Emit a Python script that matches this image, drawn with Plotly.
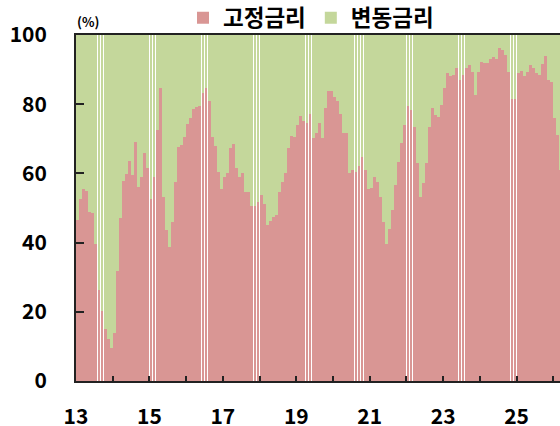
import plotly.graph_objects as go

# Monthly share of fixed-rate loans (%), Jan 2013 onward
fixed_rate = [
    46.5, 52.6, 55.6, 54.9, 48.9, 48.6, 39.7, 26.2, 20.2, 14.9, 12.0, 9.6,
    13.9, 31.7, 47.0, 57.8, 59.7, 63.5, 59.5, 69.1, 56.1, 59.0, 66.0, 61.7,
    52.6, 59.0, 72.5, 84.6, 53.2, 43.6, 38.8, 46.0, 57.6, 67.7, 68.2, 70.6,
    74.3, 76.0, 78.5, 79.1, 79.5, 83.3, 84.6, 80.9, 70.4, 67.9, 60.5, 55.4,
    59.0, 60.2, 67.2, 68.5, 61.7, 59.0, 60.2, 54.5, 54.5, 50.6, 50.6, 51.8,
    53.7, 51.3, 45.0, 46.2, 47.4, 47.9, 54.5, 57.6, 60.0, 67.2, 70.8, 70.6,
    74.0, 76.6, 75.2, 74.6, 77.1, 70.1, 71.6, 74.6, 70.1, 79.0, 83.8, 83.8,
    82.2, 81.0, 77.1, 71.6, 71.7, 60.2, 61.1, 60.5, 62.1, 64.8, 60.9, 55.6,
    55.9, 59.0, 57.6, 53.2, 46.0, 39.7, 43.9, 49.4, 56.6, 63.4, 68.7, 74.0,
    79.5, 78.3, 73.5, 62.9, 53.2, 57.1, 62.9, 73.5, 78.8, 76.9, 76.4, 79.7,
    84.6, 89.1, 88.1, 88.4, 90.4, 87.0, 88.4, 90.4, 91.3, 89.4, 82.6, 89.4,
    92.1, 92.0, 91.8, 93.0, 93.7, 93.2, 96.3, 95.7, 94.2, 89.4, 81.5, 81.5,
    88.9, 89.7, 88.2, 89.4, 91.3, 90.4, 88.9, 88.4, 91.5, 93.9, 87.0, 86.5,
    75.9, 71.1, 60.9,
]
# Variable-rate share is the remainder of 100%
variable_rate = [round(100 - v, 1) for v in fixed_rate]

months = list(range(len(fixed_rate)))          # month index from Jan 2013
years = list(range(2013, 2027))                # year boundaries
year_tick_pos = [12 * (y - 2013) - 0.5 for y in years]
year_tick_text = [str(y)[2:] if y % 2 == 1 else "" for y in years]
y_ticks = [0, 20, 40, 60, 80, 100]

RED = "#D99694"
GREEN = "#C4D79B"
FONT = "Noto Sans CJK KR"

fig = go.Figure()
fig.add_trace(go.Bar(x=months, y=fixed_rate, name="고정금리",
                     marker=dict(color=RED, line=dict(width=0))))
fig.add_trace(go.Bar(x=months, y=variable_rate, name="변동금리",
                     marker=dict(color=GREEN, line=dict(width=0))))

fig.update_layout(
    barmode="stack",
    bargap=0.06,
    width=560, height=426,
    margin=dict(l=76, r=0, t=35, b=45, autoexpand=False),
    paper_bgcolor="white", plot_bgcolor="white",
    font=dict(family=FONT, color="black"),
    showlegend=True,
    legend=dict(orientation="h", xref="container", yref="container",
                x=183 / 560, y=1 - 18 / 426, xanchor="left", yanchor="middle",
                bgcolor="rgba(0,0,0,0)",
                font=dict(size=22.5, family=FONT, weight="bold"),
                traceorder="normal", itemwidth=30),
    annotations=[dict(text="(%)", xref="paper", yref="paper",
                      x=0, y=1 + 13 / 346, xanchor="left", yanchor="middle",
                      xshift=-1, showarrow=False,
                      font=dict(size=13, family=FONT, weight="bold"))],
)

fig.update_xaxes(
    range=[-0.5, 157.7],
    tickmode="array", tickvals=year_tick_pos, ticktext=year_tick_text,
    ticks="inside", ticklen=5, tickwidth=1.5, tickcolor="#222",
    showline=True, linecolor="#222", linewidth=2, mirror=True,
    showgrid=False, zeroline=False,
    tickfont=dict(size=21, family=FONT, weight="bold"),
    ticklabelstandoff=16,
)
fig.update_yaxes(
    range=[0, 100],
    tickmode="array", tickvals=y_ticks,
    ticks="inside", ticklen=8, tickwidth=1.5, tickcolor="#222",
    showline=True, linecolor="#222", linewidth=2,
    showgrid=False, zeroline=False,
    tickfont=dict(size=21, family=FONT, weight="bold"),
    ticklabelstandoff=23,
)

fig.write_html("out.html", config={"displayModeBar": False},
               post_script="document.body.style.margin='0';")
